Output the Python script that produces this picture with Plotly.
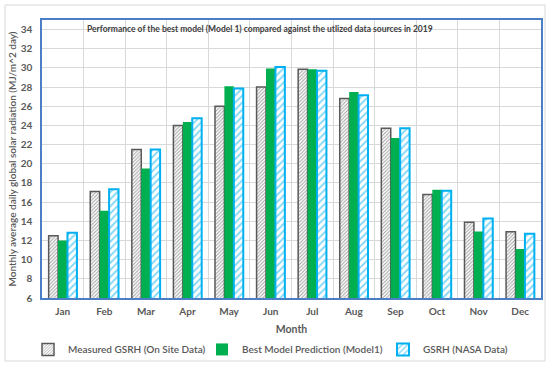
import plotly.graph_objects as go

months = ["Jan", "Feb", "Mar", "Apr", "May", "Jun", "Jul", "Aug", "Sep", "Oct", "Nov", "Dec"]
measured = [12.5, 17.1, 21.5, 24.0, 26.0, 28.0, 29.85, 26.8, 23.7, 16.8, 13.9, 12.9]
model1 = [12.0, 15.1, 19.5, 24.35, 28.1, 29.95, 29.85, 27.5, 22.7, 17.3, 12.95, 11.1]
nasa = [12.8, 17.35, 21.5, 24.75, 27.85, 30.1, 29.7, 27.15, 23.7, 17.2, 14.3, 12.7]

names = ["Measured GSRH (On Site Data)", "Best Model Prediction (Model1)", "GSRH (NASA Data)"]
title_text = "Performance of the best model (Model 1) compared against the utlized data sources in 2019"

txt = "#595959"
font_family = "Lato, Open Sans, sans-serif"

fig = go.Figure()
fig.add_trace(go.Bar(
    x=months, y=measured, name=names[0], legend="legend",
    marker=dict(color="white", line=dict(color="#595959", width=1.5),
                pattern=dict(shape="/", fgcolor="#404040", bgcolor="white", size=2.5, solidity=0.4)),
))
fig.add_trace(go.Bar(
    x=months, y=model1, name=names[1], legend="legend2",
    marker=dict(color="#00B050", line=dict(color="#00B050", width=0)),
))
fig.add_trace(go.Bar(
    x=months, y=nasa, name=names[2], legend="legend3",
    marker=dict(color="white", line=dict(color="#00B0F0", width=2),
                pattern=dict(shape="/", fgcolor="#00B0F0", bgcolor="white", size=5, solidity=0.35)),
))

leg_common = dict(orientation="h", y=-0.185, yanchor="middle", xanchor="left",
                  font=dict(size=10, color=txt, weight=600), itemwidth=30,
                  bgcolor="rgba(0,0,0,0)")
PW = 499.0
fig.update_layout(
    width=550, height=366,
    margin=dict(l=42, r=9, t=20, b=68, autoexpand=False),
    paper_bgcolor="white", plot_bgcolor="white",
    barmode="group", bargap=0.32, bargroupgap=0.0,
    font=dict(family=font_family, color=txt, size=10),
    showlegend=True,
    legend=dict(x=(28 - 42) / PW, **leg_common),
    legend2=dict(x=(202 - 42) / PW, **leg_common),
    legend3=dict(x=(383 - 42) / PW, **leg_common),
    xaxis=dict(
        type="category", tickson="boundaries", showgrid=True, gridcolor="#D9D9D9", gridwidth=1,
        showline=True, mirror=True, linecolor="#4A7EC7", linewidth=1.5, ticks="",
        tickfont=dict(size=10, color=txt, weight="bold"), automargin=False, ticklabelstandoff=3,
        title=dict(text="Month", font=dict(size=10.5, color=txt, weight="bold"), standoff=10),
    ),
    yaxis=dict(
        range=[6, 35], dtick=2, tick0=6, showgrid=True, gridcolor="#D9D9D9", gridwidth=1,
        showline=True, mirror=True, linecolor="#4A7EC7", linewidth=1.5, ticks="",
        tickfont=dict(size=10, color=txt, weight="bold"), zeroline=False, automargin=False,
        ticklabelstandoff=6,
        title=dict(text="Monthly average daily global solar radiation (MJ/m^2 day)",
                   font=dict(size=10, color=txt, weight=600), standoff=2),
    ),
    annotations=[dict(
        text=title_text, xref="paper", yref="paper", x=0.086, y=0.968,
        xanchor="left", yanchor="middle", showarrow=False,
        font=dict(size=8.5, color="#404040", weight="bold"),
    )],
    shapes=[dict(type="rect", xref="paper", yref="paper", layer="below",
                 x0=-37 / PW, x1=1 + 4 / PW, y0=-63 / 278, y1=1 + 15 / 278,
                 line=dict(color="#D9D9D9", width=1))],
)

fig.write_html("out.html", config={"displayModeBar": False},
               post_script="document.body.style.margin='0px';")
